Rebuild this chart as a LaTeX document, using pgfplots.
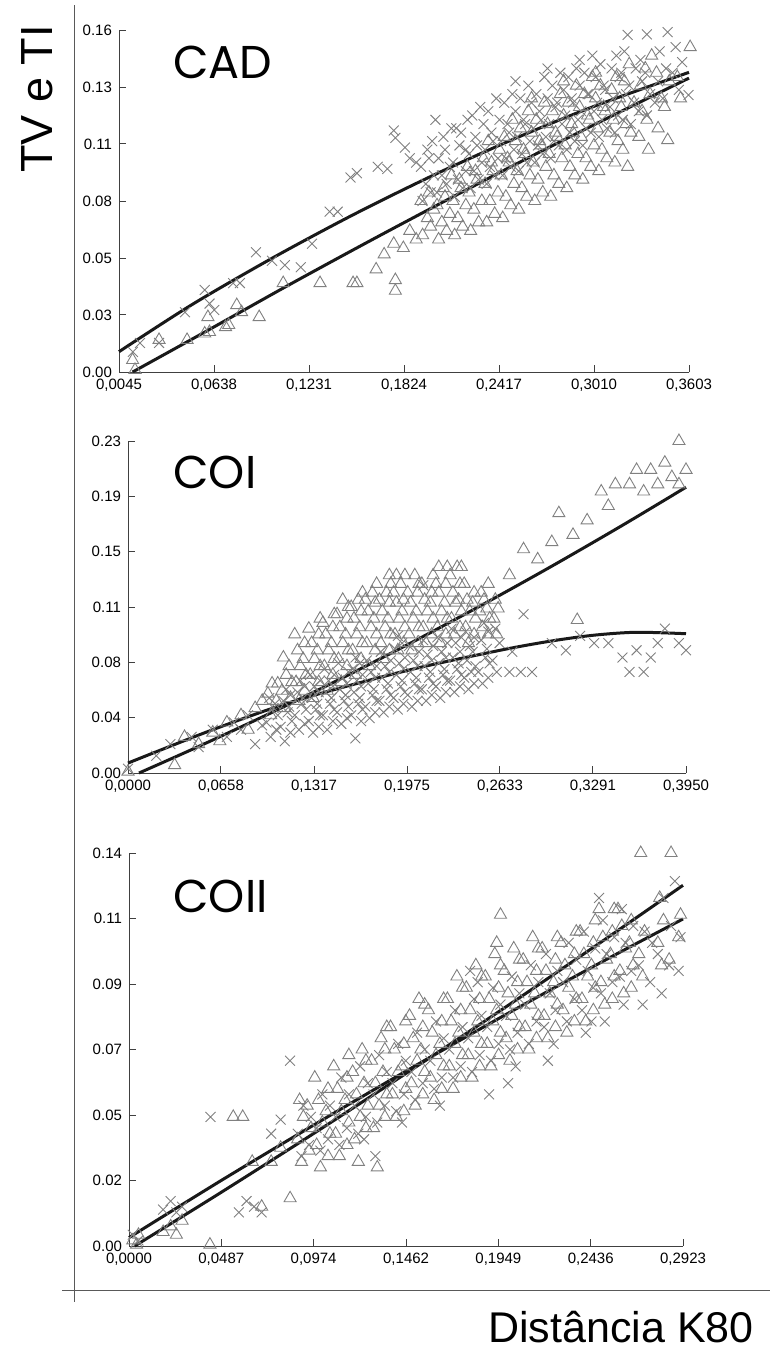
\documentclass[border=0pt]{standalone}
\usepackage{fontspec}
\setmainfont{Liberation Sans}
\newfontfamily\geo{Poppins}
\usepackage{pgfplots}
\pgfplotsset{compat=1.18}

\pgfplotsset{
  panel/.style={scale only axis, anchor=south west, axis lines=left,
    axis line style={-, draw=black!75, line width=0.5pt},
    enlargelimits=false, clip=false,
    tick style={draw=black!75, line width=0.5pt}, major tick length=3.5pt,
    tick align=inside, ticklabel style={font=\fontsize{7.5}{9}\selectfont},
    xtick pos=left, ytick pos=left},
  xs/.style={only marks, mark=x, mark size=3.5pt, color=black!50,
    mark options={line width=0.45pt}},
  ts/.style={only marks, mark=triangle, mark size=3.5pt, color=black!50,
    mark options={line width=0.45pt}},
  fit/.style={no marks, line width=1.5pt, color=black!90, smooth},
}

\begin{document}
\begin{tikzpicture}
\useasboundingbox (0pt,0pt) rectangle (385pt,-677.5pt);

% frame lines
\draw[black!65, line width=0.5pt] (37pt,-2.5pt) -- (37pt,-651pt);
\draw[black!65, line width=0.5pt] (31pt,-645pt) -- (385pt,-645pt);

% ---------------- CAD ----------------
\begin{axis}[panel, at={(59.5pt,-186pt)}, width=285pt, height=171pt,
  xmin=0.0045, xmax=0.3603, ymin=0, ymax=0.16,
  xtick={0.0045,0.0638,0.1231,0.1824,0.2417,0.3010,0.3603},
  xticklabels={{0,0045},{0,0638},{0,1231},{0,1824},{0,2417},{0,3010},{0,3603}},
  ytick={0,0.02667,0.05333,0.08,0.10667,0.13333,0.16},
  yticklabels={0.00,0.03,0.05,0.08,0.11,0.13,0.16}]
\addplot[xs] coordinates {
(0.0132,0.0094) (0.0176,0.0136) (0.0295,0.0136) (0.0457,0.028) (0.058,0.0384)
(0.061,0.032) (0.064,0.029) (0.0757,0.0416) (0.080,0.0416) (0.090,0.056)
(0.100,0.052) (0.108,0.050) (0.118,0.049) (0.125,0.060) (0.136,0.075)
(0.141,0.075) (0.149,0.091) (0.153,0.093) (0.166,0.096) (0.172,0.095)
(0.176,0.113) (0.177,0.1095) (0.183,0.105) (0.186,0.100) (0.190,0.098)
(0.194,0.080) (0.196,0.088) (0.193,0.096) (0.197,0.104)
(0.203,0.084) (0.206,0.092) (0.204,0.100) (0.207,0.110) (0.202,0.118)
(0.214,0.082) (0.216,0.090) (0.213,0.098) (0.217,0.106) (0.215,0.114)
(0.224,0.086) (0.226,0.094) (0.223,0.102) (0.227,0.110) (0.225,0.120) (0.221,0.104)
(0.234,0.088) (0.236,0.096) (0.233,0.104) (0.237,0.112) (0.235,0.122)
(0.244,0.092) (0.246,0.100) (0.243,0.108) (0.247,0.116) (0.245,0.126)
(0.254,0.094) (0.256,0.102) (0.253,0.110) (0.257,0.118) (0.255,0.128) (0.252,0.136)
(0.264,0.098) (0.266,0.106) (0.263,0.114) (0.267,0.122) (0.265,0.130)
(0.274,0.100) (0.276,0.108) (0.273,0.116) (0.277,0.124) (0.275,0.134) (0.272,0.142)
(0.284,0.104) (0.286,0.112) (0.283,0.120) (0.287,0.128) (0.285,0.138)
(0.294,0.106) (0.296,0.114) (0.293,0.122) (0.297,0.130) (0.295,0.140) (0.292,0.146)
(0.304,0.110) (0.306,0.118) (0.303,0.126) (0.307,0.134) (0.305,0.144)
(0.314,0.112) (0.316,0.120) (0.313,0.128) (0.317,0.138) (0.315,0.148)
(0.324,0.116) (0.326,0.126) (0.323,0.134) (0.327,0.142) (0.322,0.1577)
(0.334,0.120) (0.336,0.130) (0.333,0.140) (0.334,0.158)
(0.344,0.128) (0.346,0.142) (0.347,0.159)
(0.354,0.132) (0.356,0.145) (0.360,0.1296)
(0.199,0.084) (0.201,0.092) (0.198,0.100) (0.200,0.108)
(0.209,0.088) (0.211,0.096) (0.208,0.104) (0.212,0.114)
(0.219,0.086) (0.221,0.094) (0.218,0.112) (0.222,0.118)
(0.229,0.090) (0.231,0.098) (0.228,0.106) (0.232,0.116) (0.230,0.124)
(0.239,0.092) (0.241,0.100) (0.238,0.108) (0.242,0.118) (0.240,0.128)
(0.249,0.096) (0.251,0.104) (0.248,0.112) (0.252,0.122) (0.250,0.130)
(0.259,0.098) (0.261,0.108) (0.258,0.116) (0.262,0.126) (0.260,0.134)
(0.269,0.102) (0.271,0.110) (0.268,0.118) (0.272,0.128) (0.270,0.138)
(0.279,0.106) (0.281,0.116) (0.278,0.126) (0.282,0.132) (0.280,0.140)
(0.289,0.108) (0.291,0.118) (0.288,0.126) (0.292,0.134) (0.290,0.142)
(0.299,0.112) (0.301,0.122) (0.298,0.130) (0.302,0.138) (0.300,0.148)
(0.309,0.114) (0.311,0.124) (0.308,0.132) (0.312,0.142)
(0.319,0.118) (0.321,0.130) (0.318,0.140) (0.320,0.150)
(0.329,0.122) (0.331,0.136) (0.330,0.146)
(0.339,0.126) (0.341,0.136) (0.342,0.150)
(0.350,0.140) (0.352,0.152)
};
\addplot[ts] coordinates {
(0.013,0.0056) (0.0145,0.001) (0.0295,0.015) (0.047,0.015) (0.058,0.018)
(0.060,0.0257) (0.061,0.0187) (0.071,0.021) (0.073,0.022) (0.078,0.0313)
(0.081,0.028) (0.092,0.0257) (0.107,0.0416) (0.130,0.0416) (0.1506,0.0416)
(0.153,0.0416) (0.177,0.038) (0.177,0.043) (0.165,0.048) (0.170,0.055)
(0.176,0.060) (0.182,0.058) (0.186,0.066) (0.190,0.062)
(0.194,0.064) (0.197,0.072) (0.193,0.080)
(0.204,0.062) (0.206,0.070) (0.203,0.078) (0.207,0.086)
(0.214,0.064) (0.216,0.072) (0.213,0.080) (0.217,0.090)
(0.224,0.066) (0.226,0.076) (0.223,0.084) (0.227,0.094)
(0.234,0.070) (0.236,0.080) (0.233,0.088) (0.237,0.098) (0.235,0.108)
(0.244,0.072) (0.246,0.082) (0.243,0.092) (0.247,0.100) (0.245,0.110)
(0.254,0.076) (0.256,0.086) (0.253,0.094) (0.257,0.104) (0.255,0.114)
(0.264,0.080) (0.266,0.090) (0.263,0.098) (0.267,0.108) (0.265,0.118) (0.262,0.128)
(0.274,0.082) (0.276,0.092) (0.273,0.102) (0.277,0.112) (0.275,0.122)
(0.284,0.086) (0.286,0.096) (0.283,0.106) (0.287,0.116) (0.285,0.126) (0.282,0.136)
(0.294,0.090) (0.296,0.100) (0.293,0.110) (0.297,0.120) (0.295,0.130)
(0.304,0.094) (0.306,0.104) (0.303,0.114) (0.307,0.124) (0.305,0.134) (0.302,0.140)
(0.314,0.098) (0.316,0.108) (0.313,0.118) (0.317,0.128) (0.315,0.138)
(0.322,0.096) (0.324,0.112) (0.326,0.126) (0.323,0.144)
(0.335,0.104) (0.334,0.118) (0.336,0.130) (0.333,0.142) (0.337,0.148)
(0.347,0.1085) (0.345,0.124) (0.348,0.136)
(0.355,0.128) (0.353,0.138) (0.361,0.152)
(0.199,0.068) (0.201,0.076) (0.198,0.084)
(0.209,0.066) (0.211,0.074) (0.208,0.082) (0.212,0.092)
(0.219,0.068) (0.221,0.078) (0.218,0.086) (0.222,0.096)
(0.229,0.070) (0.231,0.080) (0.228,0.090) (0.232,0.100)
(0.239,0.074) (0.241,0.084) (0.238,0.094) (0.242,0.104)
(0.249,0.078) (0.251,0.088) (0.248,0.098) (0.252,0.108) (0.250,0.118)
(0.259,0.082) (0.261,0.092) (0.258,0.102) (0.262,0.112) (0.260,0.122)
(0.269,0.084) (0.271,0.096) (0.268,0.106) (0.272,0.116) (0.270,0.126)
(0.279,0.088) (0.281,0.100) (0.278,0.110) (0.282,0.120) (0.280,0.130)
(0.289,0.092) (0.291,0.102) (0.288,0.112) (0.292,0.124) (0.290,0.134)
(0.299,0.096) (0.301,0.106) (0.298,0.118) (0.302,0.128) (0.300,0.138)
(0.309,0.100) (0.311,0.112) (0.308,0.122) (0.312,0.132)
(0.319,0.104) (0.321,0.116) (0.318,0.124) (0.320,0.136)
(0.329,0.110) (0.331,0.122) (0.330,0.134)
(0.341,0.114) (0.343,0.128) (0.340,0.140)
};
\addplot[fit] coordinates {(0.0045,0.0095) (0.05,0.0315) (0.10,0.0532) (0.15,0.0733)
  (0.20,0.0918) (0.25,0.1087) (0.30,0.1240) (0.3603,0.1402)};
\addplot[fit] coordinates {(0.013,0) (0.06,0.0195) (0.11,0.0405) (0.16,0.0609)
  (0.21,0.0808) (0.26,0.1002) (0.31,0.1190) (0.3603,0.1375)};
\end{axis}

% ---------------- COI ----------------
\begin{axis}[panel, at={(64pt,-386.5pt)}, width=279pt, height=166pt,
  xmin=0, xmax=0.395, ymin=0, ymax=0.23,
  xtick={0,0.0658,0.1317,0.1975,0.2633,0.3291,0.3950},
  xticklabels={{0,0000},{0,0658},{0,1317},{0,1975},{0,2633},{0,3291},{0,3950}},
  ytick={0,0.03833,0.07667,0.115,0.15333,0.19167,0.23},
  yticklabels={0.00,0.04,0.08,0.11,0.15,0.19,0.23}]
\addplot[xs] coordinates {
(0.0,0.003) (0.02,0.012) (0.03,0.020) (0.045,0.025) (0.05,0.018) (0.06,0.030)
(0.07,0.025) (0.075,0.035) (0.08,0.030) (0.085,0.040) (0.09,0.020) (0.095,0.033)
(0.101,0.025) (0.098,0.035) (0.103,0.045) (0.100,0.052)
(0.111,0.022) (0.108,0.032) (0.113,0.042) (0.110,0.050) (0.112,0.058)
(0.121,0.030) (0.118,0.040) (0.123,0.048) (0.120,0.056) (0.122,0.064)
(0.131,0.028) (0.128,0.036) (0.133,0.044) (0.130,0.052) (0.132,0.060) (0.129,0.068)
(0.141,0.030) (0.138,0.040) (0.143,0.048) (0.140,0.056) (0.142,0.064) (0.139,0.072)
(0.151,0.034) (0.148,0.042) (0.153,0.050) (0.150,0.058) (0.152,0.066) (0.149,0.076)
(0.161,0.024) (0.158,0.040) (0.163,0.048) (0.160,0.056) (0.162,0.064) (0.159,0.072) (0.161,0.080)
(0.171,0.038) (0.168,0.046) (0.173,0.054) (0.170,0.062) (0.172,0.070) (0.169,0.078)
(0.181,0.042) (0.178,0.050) (0.183,0.058) (0.180,0.066) (0.182,0.074) (0.179,0.084)
(0.191,0.044) (0.188,0.052) (0.193,0.060) (0.190,0.068) (0.192,0.076) (0.189,0.086) (0.191,0.095)
(0.201,0.046) (0.198,0.054) (0.203,0.062) (0.200,0.070) (0.202,0.078) (0.199,0.088)
(0.211,0.050) (0.208,0.058) (0.213,0.066) (0.210,0.074) (0.212,0.082) (0.209,0.092) (0.209,0.130)
(0.221,0.052) (0.218,0.060) (0.223,0.068) (0.220,0.076) (0.222,0.084) (0.219,0.094)
(0.231,0.056) (0.228,0.064) (0.233,0.072) (0.230,0.080) (0.232,0.090) (0.229,0.100)
(0.241,0.058) (0.238,0.066) (0.243,0.070) (0.240,0.078) (0.242,0.088) (0.239,0.098)
(0.251,0.062) (0.248,0.070) (0.253,0.080) (0.250,0.092) (0.252,0.104)
(0.261,0.070) (0.258,0.078) (0.263,0.090) (0.260,0.100)
(0.270,0.070) (0.278,0.070) (0.286,0.070) (0.272,0.084) (0.280,0.110)
(0.300,0.090) (0.310,0.085) (0.320,0.095) (0.330,0.090) (0.340,0.090)
(0.350,0.080) (0.355,0.070) (0.360,0.085) (0.370,0.080) (0.375,0.090)
(0.380,0.100) (0.390,0.090) (0.395,0.085) (0.365,0.070)
(0.105,0.030) (0.106,0.040) (0.104,0.048)
(0.115,0.028) (0.116,0.036) (0.114,0.046) (0.115,0.054)
(0.125,0.034) (0.126,0.044) (0.124,0.052) (0.125,0.060)
(0.135,0.032) (0.136,0.040) (0.134,0.048) (0.135,0.056) (0.136,0.064)
(0.145,0.036) (0.146,0.044) (0.144,0.052) (0.145,0.060) (0.146,0.068)
(0.155,0.038) (0.156,0.046) (0.154,0.054) (0.155,0.062) (0.156,0.070)
(0.165,0.036) (0.166,0.044) (0.164,0.052) (0.165,0.060) (0.166,0.068) (0.164,0.076)
(0.175,0.042) (0.176,0.050) (0.174,0.058) (0.175,0.066) (0.176,0.074)
(0.185,0.046) (0.186,0.054) (0.184,0.062) (0.185,0.070) (0.186,0.078)
(0.195,0.048) (0.196,0.056) (0.194,0.064) (0.195,0.072) (0.196,0.080) (0.194,0.090)
(0.205,0.050) (0.206,0.058) (0.204,0.066) (0.205,0.074) (0.206,0.084)
(0.215,0.054) (0.216,0.062) (0.214,0.070) (0.215,0.078) (0.216,0.088)
(0.225,0.056) (0.226,0.064) (0.224,0.072) (0.225,0.080) (0.226,0.090)
(0.235,0.060) (0.236,0.068) (0.234,0.076) (0.235,0.084) (0.236,0.094)
(0.245,0.062) (0.246,0.074) (0.244,0.084) (0.245,0.094)
(0.255,0.066) (0.256,0.076) (0.254,0.086) (0.255,0.098)
};
\addplot[ts] coordinates {
(0.0,0.001) (0.033,0.0055) (0.040,0.025) (0.050,0.020) (0.060,0.028)
(0.065,0.022) (0.070,0.035) (0.080,0.040) (0.085,0.030) (0.090,0.045) (0.095,0.050)
(0.101,0.040) (0.099,0.055) (0.102,0.062)
(0.111,0.045) (0.109,0.057) (0.112,0.068) (0.110,0.080)
(0.121,0.050) (0.119,0.063) (0.122,0.074) (0.120,0.085) (0.118,0.096)
(0.131,0.052) (0.129,0.068) (0.132,0.079) (0.130,0.090) (0.128,0.100)
(0.141,0.057) (0.139,0.074) (0.142,0.085) (0.140,0.096) (0.138,0.104)
(0.151,0.063) (0.149,0.079) (0.152,0.090) (0.150,0.101) (0.148,0.110) (0.152,0.120)
(0.161,0.068) (0.159,0.085) (0.162,0.096) (0.160,0.107) (0.158,0.115) (0.163,0.120)
(0.171,0.074) (0.169,0.090) (0.172,0.101) (0.170,0.112) (0.168,0.120) (0.173,0.125)
(0.181,0.079) (0.179,0.090) (0.182,0.101) (0.180,0.112) (0.178,0.120) (0.183,0.125)
(0.191,0.085) (0.189,0.096) (0.192,0.107) (0.190,0.118) (0.188,0.125) (0.193,0.131) (0.190,0.137)
(0.201,0.085) (0.199,0.096) (0.202,0.107) (0.200,0.118) (0.198,0.125) (0.203,0.137)
(0.211,0.090) (0.209,0.101) (0.212,0.112) (0.210,0.120) (0.208,0.131)
(0.221,0.090) (0.219,0.101) (0.222,0.112) (0.220,0.125) (0.218,0.131) (0.220,0.1427)
(0.231,0.096) (0.229,0.107) (0.232,0.118) (0.230,0.125) (0.228,0.137) (0.233,0.1427)
(0.241,0.090) (0.239,0.101) (0.242,0.112) (0.240,0.120) (0.238,0.131)
(0.251,0.101) (0.249,0.112) (0.252,0.120) (0.250,0.125)
(0.261,0.096) (0.259,0.107) (0.262,0.114) (0.260,0.120)
(0.270,0.137) (0.280,0.155) (0.290,0.148) (0.300,0.160) (0.305,0.180)
(0.315,0.165) (0.318,0.106) (0.325,0.175) (0.335,0.195) (0.340,0.185)
(0.345,0.200) (0.355,0.200) (0.360,0.210) (0.365,0.195) (0.370,0.210)
(0.375,0.200) (0.380,0.215) (0.385,0.205) (0.390,0.230) (0.395,0.210) (0.390,0.200)
(0.105,0.050) (0.106,0.062) (0.115,0.052) (0.116,0.063) (0.114,0.074)
(0.125,0.057) (0.126,0.068) (0.124,0.079) (0.125,0.090)
(0.135,0.063) (0.136,0.074) (0.134,0.085) (0.135,0.096) (0.136,0.107)
(0.145,0.068) (0.146,0.079) (0.144,0.090) (0.145,0.101) (0.146,0.110)
(0.155,0.074) (0.156,0.085) (0.154,0.096) (0.155,0.107) (0.156,0.115)
(0.165,0.079) (0.166,0.090) (0.164,0.101) (0.165,0.112) (0.166,0.125)
(0.175,0.085) (0.176,0.096) (0.174,0.107) (0.175,0.118) (0.176,0.131)
(0.185,0.085) (0.186,0.096) (0.184,0.107) (0.185,0.118) (0.186,0.131) (0.185,0.137)
(0.195,0.090) (0.196,0.101) (0.194,0.112) (0.195,0.120) (0.196,0.137)
(0.205,0.090) (0.206,0.101) (0.204,0.112) (0.205,0.125) (0.206,0.131)
(0.215,0.096) (0.216,0.107) (0.214,0.118) (0.215,0.125) (0.216,0.137)
(0.225,0.096) (0.226,0.107) (0.224,0.118) (0.225,0.131) (0.226,0.1427)
(0.235,0.101) (0.236,0.112) (0.234,0.120) (0.235,0.131) (0.236,0.1427)
(0.245,0.096) (0.246,0.107) (0.244,0.118) (0.245,0.125)
(0.255,0.096) (0.256,0.107) (0.254,0.114) (0.255,0.131)
};
\addplot[fit] coordinates {(0.0078,0) (0.05,0.0184) (0.10,0.0411) (0.15,0.0650)
  (0.20,0.0900) (0.25,0.1161) (0.30,0.1433) (0.35,0.1716) (0.395,0.1980)};
\addplot[fit] coordinates {(0,0.0069) (0.06,0.030) (0.12,0.0505) (0.1975,0.071)
  (0.2633,0.085) (0.30,0.0915) (0.33,0.0955) (0.36,0.0975) (0.395,0.0965)};
\end{axis}

% ---------------- COII ----------------
\begin{axis}[panel, at={(64.5pt,-623pt)}, width=277pt, height=196.5pt,
  xmin=0, xmax=0.2923, ymin=0, ymax=0.14,
  xtick={0,0.0487,0.0974,0.1462,0.1949,0.2436,0.2923},
  xticklabels={{0,0000},{0,0487},{0,0974},{0,1462},{0,1949},{0,2436},{0,2923}},
  ytick={0,0.02333,0.04667,0.07,0.09333,0.11667,0.14},
  yticklabels={0.00,0.02,0.05,0.07,0.09,0.11,0.14}]
\addplot[xs] coordinates {
(0.002,0.004) (0.005,0.002) (0.018,0.013) (0.022,0.016) (0.025,0.012) (0.028,0.014)
(0.043,0.046) (0.058,0.012) (0.062,0.016) (0.066,0.014) (0.070,0.012)
(0.075,0.040) (0.080,0.045) (0.085,0.066)
(0.091,0.032) (0.089,0.040) (0.092,0.050)
(0.101,0.034) (0.099,0.042) (0.102,0.054)
(0.111,0.036) (0.109,0.046) (0.112,0.060)
(0.121,0.040) (0.119,0.050) (0.122,0.064)
(0.131,0.044) (0.129,0.054) (0.132,0.068) (0.130,0.032)
(0.141,0.048) (0.139,0.058) (0.142,0.072)
(0.151,0.052) (0.149,0.062) (0.152,0.076)
(0.161,0.056) (0.159,0.066) (0.162,0.080)
(0.171,0.060) (0.169,0.070) (0.172,0.084)
(0.181,0.062) (0.179,0.074) (0.182,0.088) (0.180,0.098)
(0.191,0.066) (0.189,0.078) (0.192,0.092) (0.190,0.054)
(0.201,0.070) (0.199,0.082) (0.202,0.096) (0.200,0.058)
(0.211,0.072) (0.209,0.086) (0.212,0.100)
(0.221,0.066) (0.219,0.078) (0.222,0.090) (0.220,0.104)
(0.231,0.080) (0.229,0.094) (0.232,0.108)
(0.241,0.076) (0.239,0.084) (0.242,0.098) (0.240,0.112)
(0.251,0.080) (0.249,0.090) (0.252,0.104) (0.250,0.116) (0.248,0.124)
(0.261,0.086) (0.259,0.096) (0.262,0.108) (0.260,0.120)
(0.271,0.086) (0.269,0.100) (0.272,0.112)
(0.281,0.090) (0.279,0.104) (0.282,0.124)
(0.290,0.098) (0.291,0.110) (0.288,0.130)
(0.095,0.036) (0.096,0.046) (0.105,0.038) (0.106,0.050)
(0.115,0.042) (0.116,0.054) (0.125,0.046) (0.126,0.058) (0.124,0.038)
(0.135,0.050) (0.136,0.062) (0.145,0.054) (0.146,0.066) (0.144,0.044)
(0.155,0.058) (0.156,0.070) (0.165,0.060) (0.166,0.074) (0.164,0.050)
(0.175,0.064) (0.176,0.078) (0.185,0.068) (0.186,0.082) (0.184,0.094)
(0.195,0.072) (0.196,0.086) (0.205,0.076) (0.206,0.090) (0.204,0.064)
(0.215,0.080) (0.216,0.094) (0.225,0.084) (0.226,0.098) (0.224,0.072)
(0.235,0.088) (0.236,0.102) (0.245,0.092) (0.246,0.106) (0.244,0.080)
(0.255,0.094) (0.256,0.110) (0.265,0.098) (0.266,0.114) (0.275,0.094)
(0.276,0.108) (0.285,0.100) (0.286,0.114)
};
\addplot[ts] coordinates {
(0.002,0.002) (0.004,0.0005) (0.005,0.004) (0.018,0.005) (0.022,0.007)
(0.025,0.004) (0.028,0.009) (0.0427,0.0005) (0.055,0.046) (0.060,0.046)
(0.065,0.030) (0.070,0.014) (0.075,0.030) (0.080,0.035) (0.085,0.017)
(0.091,0.030) (0.089,0.038) (0.092,0.046) (0.090,0.052)
(0.101,0.028) (0.099,0.036) (0.102,0.044) (0.100,0.052) (0.098,0.060)
(0.111,0.032) (0.109,0.040) (0.112,0.048) (0.110,0.056) (0.108,0.064)
(0.121,0.030) (0.119,0.038) (0.122,0.046) (0.120,0.054) (0.118,0.062) (0.123,0.070)
(0.131,0.028) (0.129,0.042) (0.132,0.050) (0.130,0.058) (0.128,0.066) (0.133,0.074)
(0.141,0.046) (0.139,0.054) (0.142,0.062) (0.140,0.070) (0.138,0.078)
(0.151,0.050) (0.149,0.058) (0.152,0.066) (0.150,0.074) (0.148,0.082) (0.153,0.088)
(0.161,0.052) (0.159,0.060) (0.162,0.068) (0.160,0.076) (0.158,0.084)
(0.171,0.056) (0.169,0.064) (0.172,0.072) (0.170,0.080) (0.168,0.088) (0.173,0.096)
(0.181,0.060) (0.179,0.068) (0.182,0.076) (0.180,0.084) (0.178,0.092) (0.183,0.100)
(0.191,0.064) (0.189,0.072) (0.192,0.080) (0.190,0.088) (0.188,0.096) (0.193,0.104) (0.196,0.118)
(0.201,0.066) (0.199,0.074) (0.202,0.082) (0.200,0.090) (0.198,0.098) (0.203,0.106)
(0.211,0.070) (0.209,0.078) (0.212,0.086) (0.210,0.094) (0.208,0.102) (0.213,0.110)
(0.221,0.074) (0.219,0.082) (0.222,0.090) (0.220,0.098) (0.218,0.106)
(0.231,0.076) (0.229,0.084) (0.232,0.092) (0.230,0.100) (0.228,0.108)
(0.241,0.080) (0.239,0.088) (0.242,0.096) (0.240,0.104) (0.238,0.112)
(0.251,0.086) (0.249,0.094) (0.252,0.102) (0.250,0.110) (0.248,0.120)
(0.261,0.090) (0.259,0.098) (0.262,0.106) (0.260,0.114) (0.258,0.120)
(0.271,0.096) (0.269,0.104) (0.272,0.112) (0.270,0.140)
(0.281,0.100) (0.279,0.108) (0.282,0.116) (0.280,0.124)
(0.286,0.140) (0.285,0.102) (0.290,0.110) (0.291,0.118)
(0.095,0.034) (0.096,0.042) (0.094,0.050) (0.105,0.032) (0.106,0.040) (0.104,0.048) (0.105,0.056)
(0.115,0.036) (0.116,0.044) (0.114,0.052) (0.115,0.060) (0.116,0.068)
(0.125,0.042) (0.126,0.050) (0.124,0.058) (0.125,0.066)
(0.135,0.046) (0.136,0.054) (0.134,0.062) (0.135,0.070) (0.136,0.078)
(0.145,0.048) (0.146,0.056) (0.144,0.064) (0.145,0.072) (0.146,0.080)
(0.155,0.054) (0.156,0.062) (0.154,0.070) (0.155,0.078) (0.156,0.086)
(0.165,0.056) (0.166,0.064) (0.164,0.072) (0.165,0.080) (0.166,0.088)
(0.175,0.060) (0.176,0.068) (0.174,0.076) (0.175,0.084) (0.176,0.092)
(0.185,0.064) (0.186,0.072) (0.184,0.080) (0.185,0.088) (0.186,0.096)
(0.195,0.068) (0.196,0.076) (0.194,0.084) (0.195,0.092) (0.196,0.100) (0.194,0.108)
(0.205,0.070) (0.206,0.078) (0.204,0.086) (0.205,0.094) (0.206,0.102)
(0.215,0.074) (0.216,0.082) (0.214,0.090) (0.215,0.098) (0.216,0.106)
(0.225,0.078) (0.226,0.086) (0.224,0.094) (0.225,0.102) (0.226,0.110)
(0.235,0.080) (0.236,0.088) (0.234,0.096) (0.235,0.104) (0.236,0.112)
(0.245,0.084) (0.246,0.092) (0.244,0.100) (0.245,0.108) (0.246,0.116)
(0.255,0.088) (0.256,0.096) (0.254,0.104) (0.255,0.112) (0.256,0.120)
(0.265,0.092) (0.266,0.100) (0.264,0.108) (0.265,0.116)
};
\addplot[fit] coordinates {(0.003,0) (0.05,0.0197) (0.10,0.0412) (0.15,0.0632)
  (0.20,0.0857) (0.25,0.1087) (0.2923,0.1285)};
\addplot[fit] coordinates {(0,0.003) (0.05,0.0239) (0.10,0.0441) (0.15,0.0638)
  (0.20,0.0829) (0.25,0.1014) (0.2923,0.1165)};
\end{axis}

% titles and labels
\node[anchor=base west, inner sep=0pt, font=\geo\fontsize{23}{26}\selectfont] at (86.5pt,-39pt) {CAD};
\node[anchor=base west, inner sep=0pt, font=\geo\fontsize{23}{26}\selectfont] at (86.5pt,-244pt) {COI};
\node[anchor=base west, inner sep=0pt, font=\geo\fontsize{23}{26}\selectfont] at (86.5pt,-456pt) {COII};
\node[anchor=base west, inner sep=0pt, rotate=90, font=\fontsize{22.5}{26}\selectfont] at (26pt,-86.5pt) {TV e TI};
\node[anchor=base west, inner sep=0pt, font=\fontsize{21.5}{26}\selectfont] at (244pt,-671pt) {Distância K80};
\end{tikzpicture}
\end{document}
